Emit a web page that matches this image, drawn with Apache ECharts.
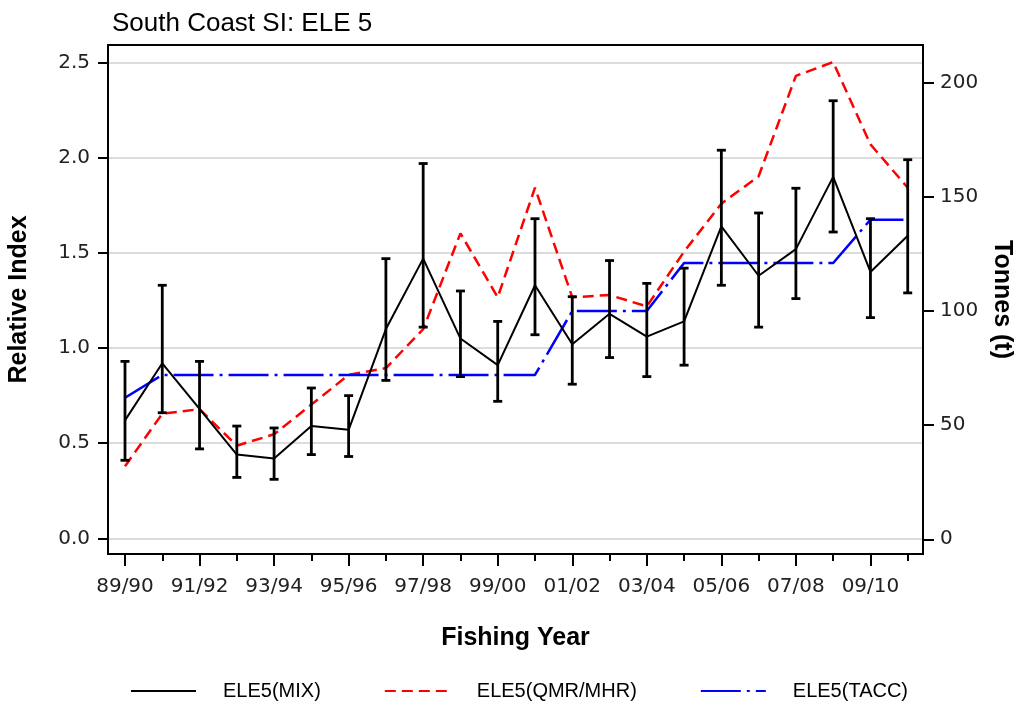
<!DOCTYPE html>
<html>
<head>
<meta charset="utf-8">
<script src="https://cdn.jsdelivr.net/npm/echarts@6/dist/echarts.min.js"></script>
<style>html,body{margin:0;padding:0;background:#fff;}#chart{width:1016px;height:702px;}</style>
</head>
<body>
<div id="chart"></div>
<script>
const years = ['89/90','90/91','91/92','92/93','93/94','94/95','95/96','96/97','97/98','98/99','99/00','00/01','01/02','02/03','03/04','04/05','05/06','06/07','07/08','08/09','09/10','10/11'];
const mix      = [0.62,0.92,0.68,0.44,0.42,0.59,0.57,1.10,1.47,1.05,0.91,1.33,1.02,1.18,1.06,1.14,1.64,1.38,1.52,1.90,1.40,1.59];
const mixUpper = [0.93,1.33,0.93,0.59,0.58,0.79,0.75,1.47,1.97,1.30,1.14,1.68,1.27,1.46,1.34,1.42,2.04,1.71,1.84,2.30,1.68,1.99];
const mixLower = [0.41,0.66,0.47,0.32,0.31,0.44,0.43,0.83,1.11,0.85,0.72,1.07,0.81,0.95,0.85,0.91,1.33,1.11,1.26,1.61,1.16,1.29];
const qmr  = [32,55,57,41,46,59,72,75,92,134,106,154,106,107,102,126,147,159,203,209,173,154];
const tacc = [62,72,72,72,72,72,72,72,72,72,72,72,100,100,100,121,121,121,121,121,140,140];
const leftTicks  = [0,0.5,1.0,1.5,2.0,2.5];
const rightTicks = [0,50,100,150,200];
const xLabelIdx  = [0,2,4,6,8,10,12,14,16,18,20];

const FONT = "'Liberation Sans', Arial, sans-serif";
const TICKFONT = "'DejaVu Sans', sans-serif";
const chart = echarts.init(document.getElementById('chart'), null, {renderer: 'canvas'});

const allIdx = years.map((_, i) => i);
const pts = arr => arr.map((v, i) => [i, v]);
const errData = years.map((_, i) => [i, mixLower[i], mixUpper[i]]);

const option = {
  animation: false,
  backgroundColor: '#fff',
  title: {
    text: 'South Coast SI: ELE 5',
    left: 112, top: 11, padding: 0,
    textStyle: {fontFamily: FONT, fontSize: 26, fontWeight: 'normal', color: '#000'}
  },
  grid: {left: 108, right: 93, top: 45, bottom: 148, show: true, borderColor: '#000', borderWidth: 2,
    containLabel: false, outerBoundsMode: 'none'},
  legend: {
    left: 130, top: 681, padding: 0, itemWidth: 65, itemHeight: 14, itemGap: 63,
    data: ['ELE5(MIX)', 'ELE5(QMR/MHR)', 'ELE5(TACC)'],
    itemStyle: {opacity: 0},
    textStyle: {fontFamily: FONT, fontSize: 20, color: '#000', padding: [0, 0, 0, 22]}
  },
  xAxis: [{
    type: 'value', min: -0.456, max: 21.41,
    name: 'Fishing Year', nameLocation: 'middle', nameGap: 72,
    nameTextStyle: {fontFamily: FONT, fontSize: 25, fontWeight: 'bold', color: '#000'},
    axisLine: {show: true, onZero: false, lineStyle: {color: '#000', width: 2}},
    axisTick: {show: true, length: 12, customValues: xLabelIdx, lineStyle: {color: '#000', width: 2}},
    axisLabel: {customValues: xLabelIdx, margin: 23, fontFamily: TICKFONT, fontSize: 20, color: '#222',
      formatter: v => years[Math.round(v)] || ''},
    splitLine: {show: false}
  }, {
    type: 'value', min: -0.456, max: 21.41, position: 'bottom',
    axisLine: {show: false, onZero: false},
    axisTick: {show: true, length: 7, customValues: allIdx, lineStyle: {color: '#000', width: 2}},
    axisLabel: {show: false},
    splitLine: {show: false}
  }],
  yAxis: [{
    type: 'value', min: -0.0825, max: 2.593, position: 'left',
    name: 'Relative Index', nameLocation: 'middle', nameGap: 76, nameRotate: 90,
    nameTextStyle: {fontFamily: FONT, fontSize: 25, fontWeight: 'bold', color: '#000'},
    axisLine: {show: true, onZero: false, lineStyle: {color: '#000', width: 2}},
    axisTick: {show: true, length: 10, customValues: leftTicks, lineStyle: {color: '#000', width: 2}},
    axisLabel: {customValues: leftTicks, margin: 18, fontFamily: TICKFONT, fontSize: 20, color: '#222',
      formatter: v => v.toFixed(1)},
    splitLine: {show: true, lineStyle: {color: '#dcdcdc', width: 2}}
  }, {
    type: 'value', min: -6.44, max: 216.5, position: 'right',
    name: 'Tonnes (t)', nameLocation: 'middle', nameGap: 66, nameRotate: -90,
    nameTextStyle: {fontFamily: FONT, fontSize: 25, fontWeight: 'bold', color: '#000'},
    axisLine: {show: true, onZero: false, lineStyle: {color: '#000', width: 2}},
    axisTick: {show: true, length: 11, customValues: rightTicks, lineStyle: {color: '#000', width: 2}},
    axisLabel: {customValues: rightTicks, margin: 17, fontFamily: TICKFONT, fontSize: 20, color: '#222',
      formatter: v => String(Math.round(v))},
    splitLine: {show: false}
  }],
  series: [{
    name: 'ELE5(QMR/MHR)', type: 'line', xAxisIndex: 0, yAxisIndex: 1,
    data: pts(qmr), symbol: 'none', z: 2,
    lineStyle: {color: '#ff0000', width: 2.5, type: [11, 6]},
    itemStyle: {color: '#ff0000'}
  }, {
    name: 'ELE5(TACC)', type: 'line', xAxisIndex: 0, yAxisIndex: 1,
    data: pts(tacc), symbol: 'none', z: 3,
    lineStyle: {color: '#0000ff', width: 2.5, type: [40, 6, 3, 6]},
    itemStyle: {color: '#0000ff'}
  }, {
    name: 'ELE5(MIX)', type: 'line', xAxisIndex: 0, yAxisIndex: 0,
    data: pts(mix), symbol: 'none', z: 4,
    lineStyle: {color: '#000', width: 2},
    itemStyle: {color: '#000'}
  }, {
    name: 'err', type: 'custom', xAxisIndex: 0, yAxisIndex: 0, z: 5,
    data: errData,
    renderItem: (params, api) => {
      const x = api.value(0);
      const lo = api.coord([x, api.value(1)]);
      const hi = api.coord([x, api.value(2)]);
      const hw = 4.5;
      const style = {stroke: '#000', lineWidth: 2.8, fill: null};
      return {type: 'group', children: [
        {type: 'line', shape: {x1: lo[0], y1: lo[1], x2: hi[0], y2: hi[1]}, style},
        {type: 'line', shape: {x1: hi[0]-hw, y1: hi[1], x2: hi[0]+hw, y2: hi[1]}, style},
        {type: 'line', shape: {x1: lo[0]-hw, y1: lo[1], x2: lo[0]+hw, y2: lo[1]}, style}
      ]};
    }
  }]
};
chart.setOption(option);
</script>
</body>
</html>
